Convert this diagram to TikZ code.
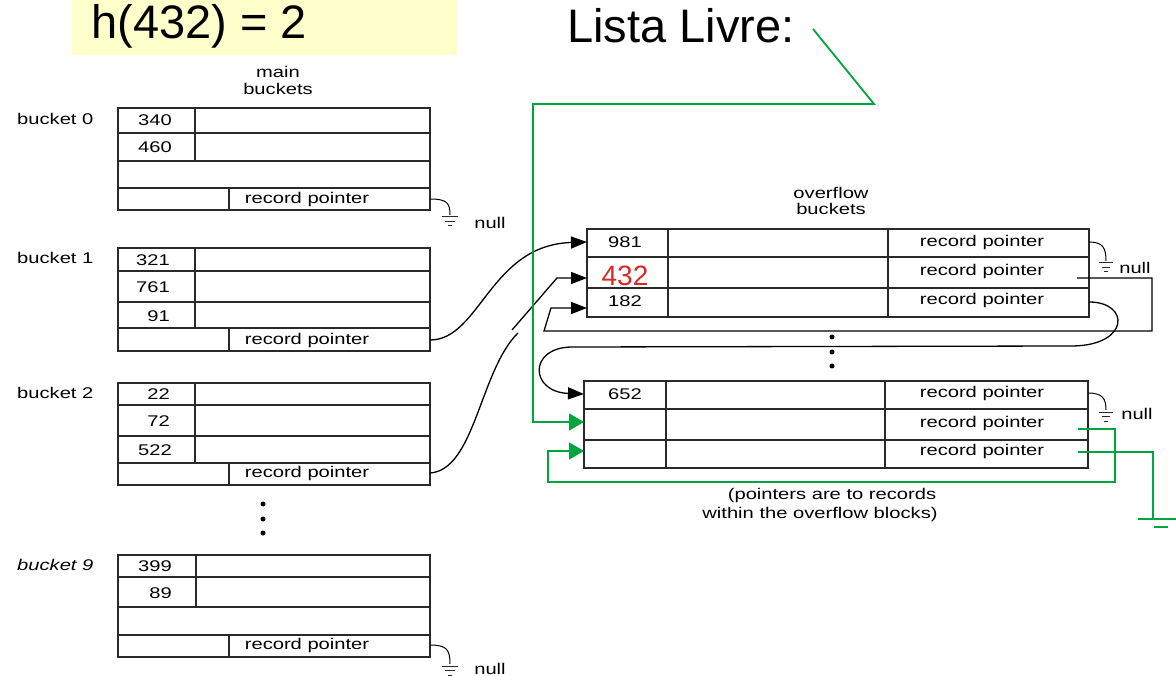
\documentclass[tikz,border=0pt]{standalone}
\usepackage{fontspec}
\setmainfont{Liberation Sans}
\usepackage{graphicx}
\usetikzlibrary{arrows.meta}
\definecolor{hl}{HTML}{FFFFCC}
\definecolor{gr}{HTML}{00A63C}
\definecolor{rd}{HTML}{D42A2A}
\definecolor{ln}{HTML}{2A2A2A}
\newcommand{\stx}[1]{\scalebox{1.3}[1]{#1}}
\newcommand{\gnd}[3]{\draw[ln,line width=1pt] (#1-#3,#2) -- (#1+#3,#2) (#1-0.62*#3,#2+4.5) -- (#1+0.62*#3,#2+4.5) (#1-0.3*#3,#2+9) -- (#1+0.3*#3,#2+9);}
\begin{document}
\begin{tikzpicture}[x=1pt,y=-1pt,
  box/.style={draw=ln,line width=1.1pt},
  txt/.style={inner sep=0pt,font=\fontsize{15.5}{17}\selectfont},
  big/.style={inner sep=0pt,font=\fontsize{47}{50}\selectfont},
  ptr/.style={draw=black,line width=1.3pt},
  gptr/.style={draw=gr,line width=1.8pt},
  barr/.style={-{Triangle[length=16pt,width=12pt]}},
  garr/.style={-{Triangle[length=15pt,width=17pt]}},
  dot/.style={fill=black,circle,inner sep=0pt,minimum size=5pt},
]
\useasboundingbox (0,0) rectangle (1176,676);

% title boxes
\fill[hl] (72,0) rectangle (457,55);
\node[big,anchor=base] (hash) at (199,39) {h(432) = 2};
\node[big,anchor=base] (lista) at (681,43) {Lista Livre:};

% main buckets labels
\node[txt] (mainl1) at (278,72) {\stx{main}};
\node[txt] (mainl2) at (278,89) {\stx{buckets}};

% bucket 0
\draw[box] (118,108) rectangle (430,210);
\draw[box] (118,133) -- (430,133) (118,161) -- (430,161) (118,188) -- (430,188)
  (195,108) -- (195,161) (229,188) -- (229,210);
\node[txt,anchor=west] (lb0) at (17,119) {\stx{bucket 0}};
\node[txt,anchor=east] (v340) at (172,120) {\stx{340}};
\node[txt,anchor=east] (v460) at (172,147) {\stx{460}};
\node[txt] (rp0) at (307,199) {\stx{record pointer}};

% bucket 1
\draw[box] (118,248) rectangle (430,351);
\draw[box] (118,271) -- (430,271) (118,302) -- (430,302) (118,328) -- (430,328)
  (195,248) -- (195,328) (229,328) -- (229,351);
\node[txt,anchor=west] (lb1) at (17,258) {\stx{bucket 1}};
\node[txt,anchor=east] (v321) at (170,260) {\stx{321}};
\node[txt,anchor=east] (v761) at (170,287) {\stx{761}};
\node[txt,anchor=east] (v91) at (170,316) {\stx{91}};
\node[txt] (rp1) at (307,340) {\stx{record pointer}};

% bucket 2
\draw[box] (118,383) rectangle (430,485);
\draw[box] (118,405) -- (430,405) (118,436) -- (430,436) (118,463) -- (430,463)
  (195,383) -- (195,463) (229,463) -- (229,485);
\node[txt,anchor=west] (lb2) at (17,393) {\stx{bucket 2}};
\node[txt,anchor=east] (v22) at (170,394) {\stx{22}};
\node[txt,anchor=east] (v72) at (170,421) {\stx{72}};
\node[txt,anchor=east] (v522) at (172,450) {\stx{522}};
\node[txt] (rp2) at (307,473) {\stx{record pointer}};

% dots
\node[dot] (d1) at (263,504) {};
\node[dot] (d2) at (263,519) {};
\node[dot] (d3) at (263,533) {};

% bucket 9
\draw[box] (118,555) rectangle (430,657);
\draw[box] (118,577) -- (430,577) (118,607) -- (430,607) (118,635) -- (430,635)
  (196,555) -- (196,607) (229,635) -- (229,657);
\node[txt,anchor=west] (lb9) at (17,565) {\itshape\stx{bucket 9}};
\node[txt,anchor=east] (v399) at (172,566) {\stx{399}};
\node[txt,anchor=east] (v89) at (172,593) {\stx{89}};
\node[txt] (rp9) at (307,645) {\stx{record pointer}};

% overflow label
\node[txt] (ovl1) at (831,193) {\stx{overflow}};
\node[txt] (ovl2) at (831,209) {\stx{buckets}};

% overflow bucket 1
\draw[box] (587,229) rectangle (1089,317);
\draw[box] (587,257) -- (1089,257) (587,288) -- (1089,288)
  (668,229) -- (668,317) (888,229) -- (888,317);
\node[txt] (v981) at (625,242) {\stx{981}};
\node[inner sep=0pt,font=\fontsize{28}{30}\selectfont,text=rd] (v432) at (625,276) {432};
\node[txt] (v182) at (625,301) {\stx{182}};
\node[txt] (orp1) at (982,242) {\stx{record pointer}};
\node[txt] (orp2) at (982,271) {\stx{record pointer}};
\node[txt] (orp3) at (982,300) {\stx{record pointer}};

% overflow dots
\node[dot] (od1) at (832,337) {};
\node[dot] (od2) at (832,352) {};
\node[dot] (od3) at (832,366) {};

% overflow bucket 2
\draw[box] (584,381) rectangle (1088,468);
\draw[box] (584,409) -- (1088,409) (584,440) -- (1088,440)
  (666,381) -- (666,468) (885,381) -- (885,468);
\node[txt] (v652) at (625,394) {\stx{652}};
\node[txt] (orp4) at (982,393) {\stx{record pointer}};
\node[txt] (orp5) at (982,423) {\stx{record pointer}};
\node[txt] (orp6) at (982,451) {\stx{record pointer}};

% note
\node[txt] (note1) at (832,495) {\stx{(pointers are to records}};
\node[txt] (note2) at (820,514) {\stx{within the overflow blocks)}};

% null labels
\node[txt] (n0) at (490,223) {\stx{null}};
\node[txt] (n9) at (490,669) {\stx{null}};
\node[txt] (n1) at (1135,268) {\stx{null}};
\node[txt] (n2) at (1137,414) {\stx{null}};

% coordinates
\coordinate (b0p) at (430,199);
\coordinate (b0g) at (450,215);
\coordinate (b9p) at (430,645);
\coordinate (b9g) at (450,664);
\coordinate (b1p) at (430,340);
\coordinate (b2p) at (430,473);
\coordinate (b2e) at (518,333);
\coordinate (o1p1) at (1089,242);
\coordinate (o1g) at (1106,261);
\coordinate (o2p1) at (1088,393);
\coordinate (o2g) at (1106,410);
\coordinate (in981) at (587,242);
\coordinate (in432) at (587,278);
\coordinate (in182) at (587,308);
\coordinate (in652) at (584,394);
\coordinate (in2) at (584,422);
\coordinate (in3) at (584,451);
\coordinate (s432) at (512,330);
\coordinate (p432) at (1077,278);
\coordinate (p182) at (1089,302);
\coordinate (ll) at (813,29);
\coordinate (gp2) at (1078,429);
\coordinate (gp3) at (1078,452);
\coordinate (gg) at (1153,519);

% null pointers
\draw[ptr,line width=1pt] (b0p) .. controls (447,199) and (450,203) .. (b0g);
\gnd{450}{217}{8}
\draw[ptr,line width=1pt] (b9p) .. controls (447,645) and (450,650) .. (b9g);
\gnd{450}{666}{8}
\draw[ptr,line width=1pt] (o1p1) .. controls (1103,242) and (1106,248) .. (o1g);
\gnd{1106}{263}{7}
\draw[ptr,line width=1pt] (o2p1) .. controls (1103,393) and (1106,399) .. (o2g);
\gnd{1106}{412}{7}

% black pointers
\draw[ptr,barr] (b1p) .. controls (480,340) and (490,245) .. (in981);
\draw[ptr] (b2p) .. controls (475,470) and (480,370) .. (b2e);
\draw[ptr,barr] (s432) -- (557,278) -- (in432);
\draw[ptr,barr] (p432) -- (1152,278) -- (1152,331) -- (544,331) -- (551,308) -- (in182);
\draw[ptr,barr] (p182) .. controls (1130,302) and (1130,345) .. (1073,346) -- (571,347)
  .. controls (528,348) and (530,392) .. (in652);

% green free list
\draw[gptr,garr] (ll) -- (874,104) -- (533,104) -- (533,422) -- (in2);
\draw[gptr,garr] (gp2) -- (1115,429) -- (1115,482) -- (548,482) -- (548,451) -- (in3);
\draw[gptr] (gp3) -- (1153,452) -- (gg);
\draw[gptr] (1138,519) -- (1176,519) (1154,527) -- (1168,527);
\end{tikzpicture}
\end{document}
